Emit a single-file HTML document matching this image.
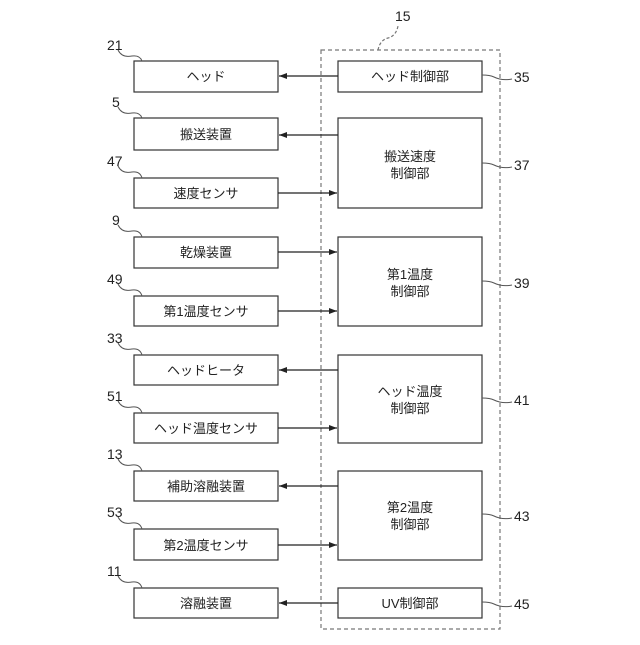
<!DOCTYPE html>
<html><head><meta charset="utf-8"><style>
body{margin:0;background:#fff}
svg text{font-family:"Liberation Sans","Noto Sans CJK JP",sans-serif;fill:#222}
</style></head><body>
<svg width="640" height="640" viewBox="0 0 640 640" xmlns="http://www.w3.org/2000/svg">
<defs><marker id="a" markerWidth="8" markerHeight="6" refX="8" refY="3" orient="auto" markerUnits="userSpaceOnUse"><path d="M0,0 L8,3 L0,6 z" fill="#222"/></marker></defs>
<g fill="none" stroke="#333" stroke-width="1.2">
<rect x="321" y="50" width="179" height="579" stroke-dasharray="4,3" stroke="#777"/>
<path d="M378,50 q2,-10 10,-12 q8,-2 10,-12" stroke="#777" stroke-dasharray="3,2"/>
<rect x="134" y="61" width="144" height="31"/>
<rect x="134" y="118" width="144" height="32"/>
<rect x="134" y="178" width="144" height="30"/>
<rect x="134" y="237" width="144" height="31"/>
<rect x="134" y="296" width="144" height="30"/>
<rect x="134" y="355" width="144" height="30"/>
<rect x="134" y="413" width="144" height="30"/>
<rect x="134" y="471" width="144" height="30"/>
<rect x="134" y="529" width="144" height="31"/>
<rect x="134" y="588" width="144" height="30"/>
<rect x="338" y="61" width="144" height="31"/>
<rect x="338" y="118" width="144" height="90"/>
<rect x="338" y="237" width="144" height="89"/>
<rect x="338" y="355" width="144" height="88"/>
<rect x="338" y="471" width="144" height="89"/>
<rect x="338" y="588" width="144" height="30"/>
<g stroke="#222" marker-end="url(#a)">
<line x1="338" y1="76" x2="279" y2="76"/>
<line x1="338" y1="135" x2="279" y2="135"/>
<line x1="278" y1="193" x2="337" y2="193"/>
<line x1="278" y1="252" x2="337" y2="252"/>
<line x1="278" y1="311" x2="337" y2="311"/>
<line x1="338" y1="370" x2="279" y2="370"/>
<line x1="278" y1="428" x2="337" y2="428"/>
<line x1="338" y1="486" x2="279" y2="486"/>
<line x1="278" y1="545" x2="337" y2="545"/>
<line x1="338" y1="603" x2="279" y2="603"/>
</g>
<g stroke="#555" stroke-width="1">
<path d="M118,50 q4,8 14,6 q8,-1 10,5"/>
<path d="M118,107 q4,8 14,6 q8,-1 10,5"/>
<path d="M118,166 q4,8 14,6 q8,-1 10,6"/>
<path d="M118,225 q4,8 14,6 q8,-1 10,6"/>
<path d="M118,284 q4,8 14,6 q8,-1 10,6"/>
<path d="M118,343 q4,8 14,6 q8,-1 10,6"/>
<path d="M118,401 q4,8 14,6 q8,-1 10,6"/>
<path d="M118,459 q4,8 14,6 q8,-1 10,6"/>
<path d="M118,517 q4,8 14,6 q8,-1 10,6"/>
<path d="M118,576 q4,8 14,6 q8,-1 10,6"/>
<path d="M482,75 q8,0 12,2 q8,4 18,2"/>
<path d="M482,163 q8,0 12,2 q8,4 18,2"/>
<path d="M482,281 q8,0 12,2 q8,4 18,2"/>
<path d="M482,398 q8,0 12,2 q8,4 18,2"/>
<path d="M482,514 q8,0 12,2 q8,4 18,2"/>
<path d="M482,602 q8,0 12,2 q8,4 18,2"/>
</g>
</g>
<g font-size="14">
<text x="395" y="21">15</text>
<text x="107" y="50">21</text><text x="112" y="107">5</text><text x="107" y="166">47</text>
<text x="112" y="225">9</text><text x="107" y="284">49</text><text x="107" y="343">33</text>
<text x="107" y="401">51</text><text x="107" y="459">13</text><text x="107" y="517">53</text>
<text x="107" y="576">11</text>
<text x="514" y="82">35</text><text x="514" y="170">37</text><text x="514" y="288">39</text>
<text x="514" y="405">41</text><text x="514" y="521">43</text><text x="514" y="609">45</text>
</g>
<g font-size="13" text-anchor="middle">
<text x="206" y="81">ヘッド</text>
<text x="206" y="139">搬送装置</text>
<text x="206" y="198">速度センサ</text>
<text x="206" y="257">乾燥装置</text>
<text x="206" y="316">第1温度センサ</text>
<text x="206" y="375">ヘッドヒータ</text>
<text x="206" y="433">ヘッド温度センサ</text>
<text x="206" y="491">補助溶融装置</text>
<text x="206" y="550">第2温度センサ</text>
<text x="206" y="608">溶融装置</text>
<text x="410" y="81">ヘッド制御部</text>
<text x="410" y="161">搬送速度</text><text x="410" y="178">制御部</text>
<text x="410" y="279">第1温度</text><text x="410" y="296">制御部</text>
<text x="410" y="396">ヘッド温度</text><text x="410" y="413">制御部</text>
<text x="410" y="512">第2温度</text><text x="410" y="529">制御部</text>
<text x="410" y="608">UV制御部</text>
</g>
</svg>
</body></html>
